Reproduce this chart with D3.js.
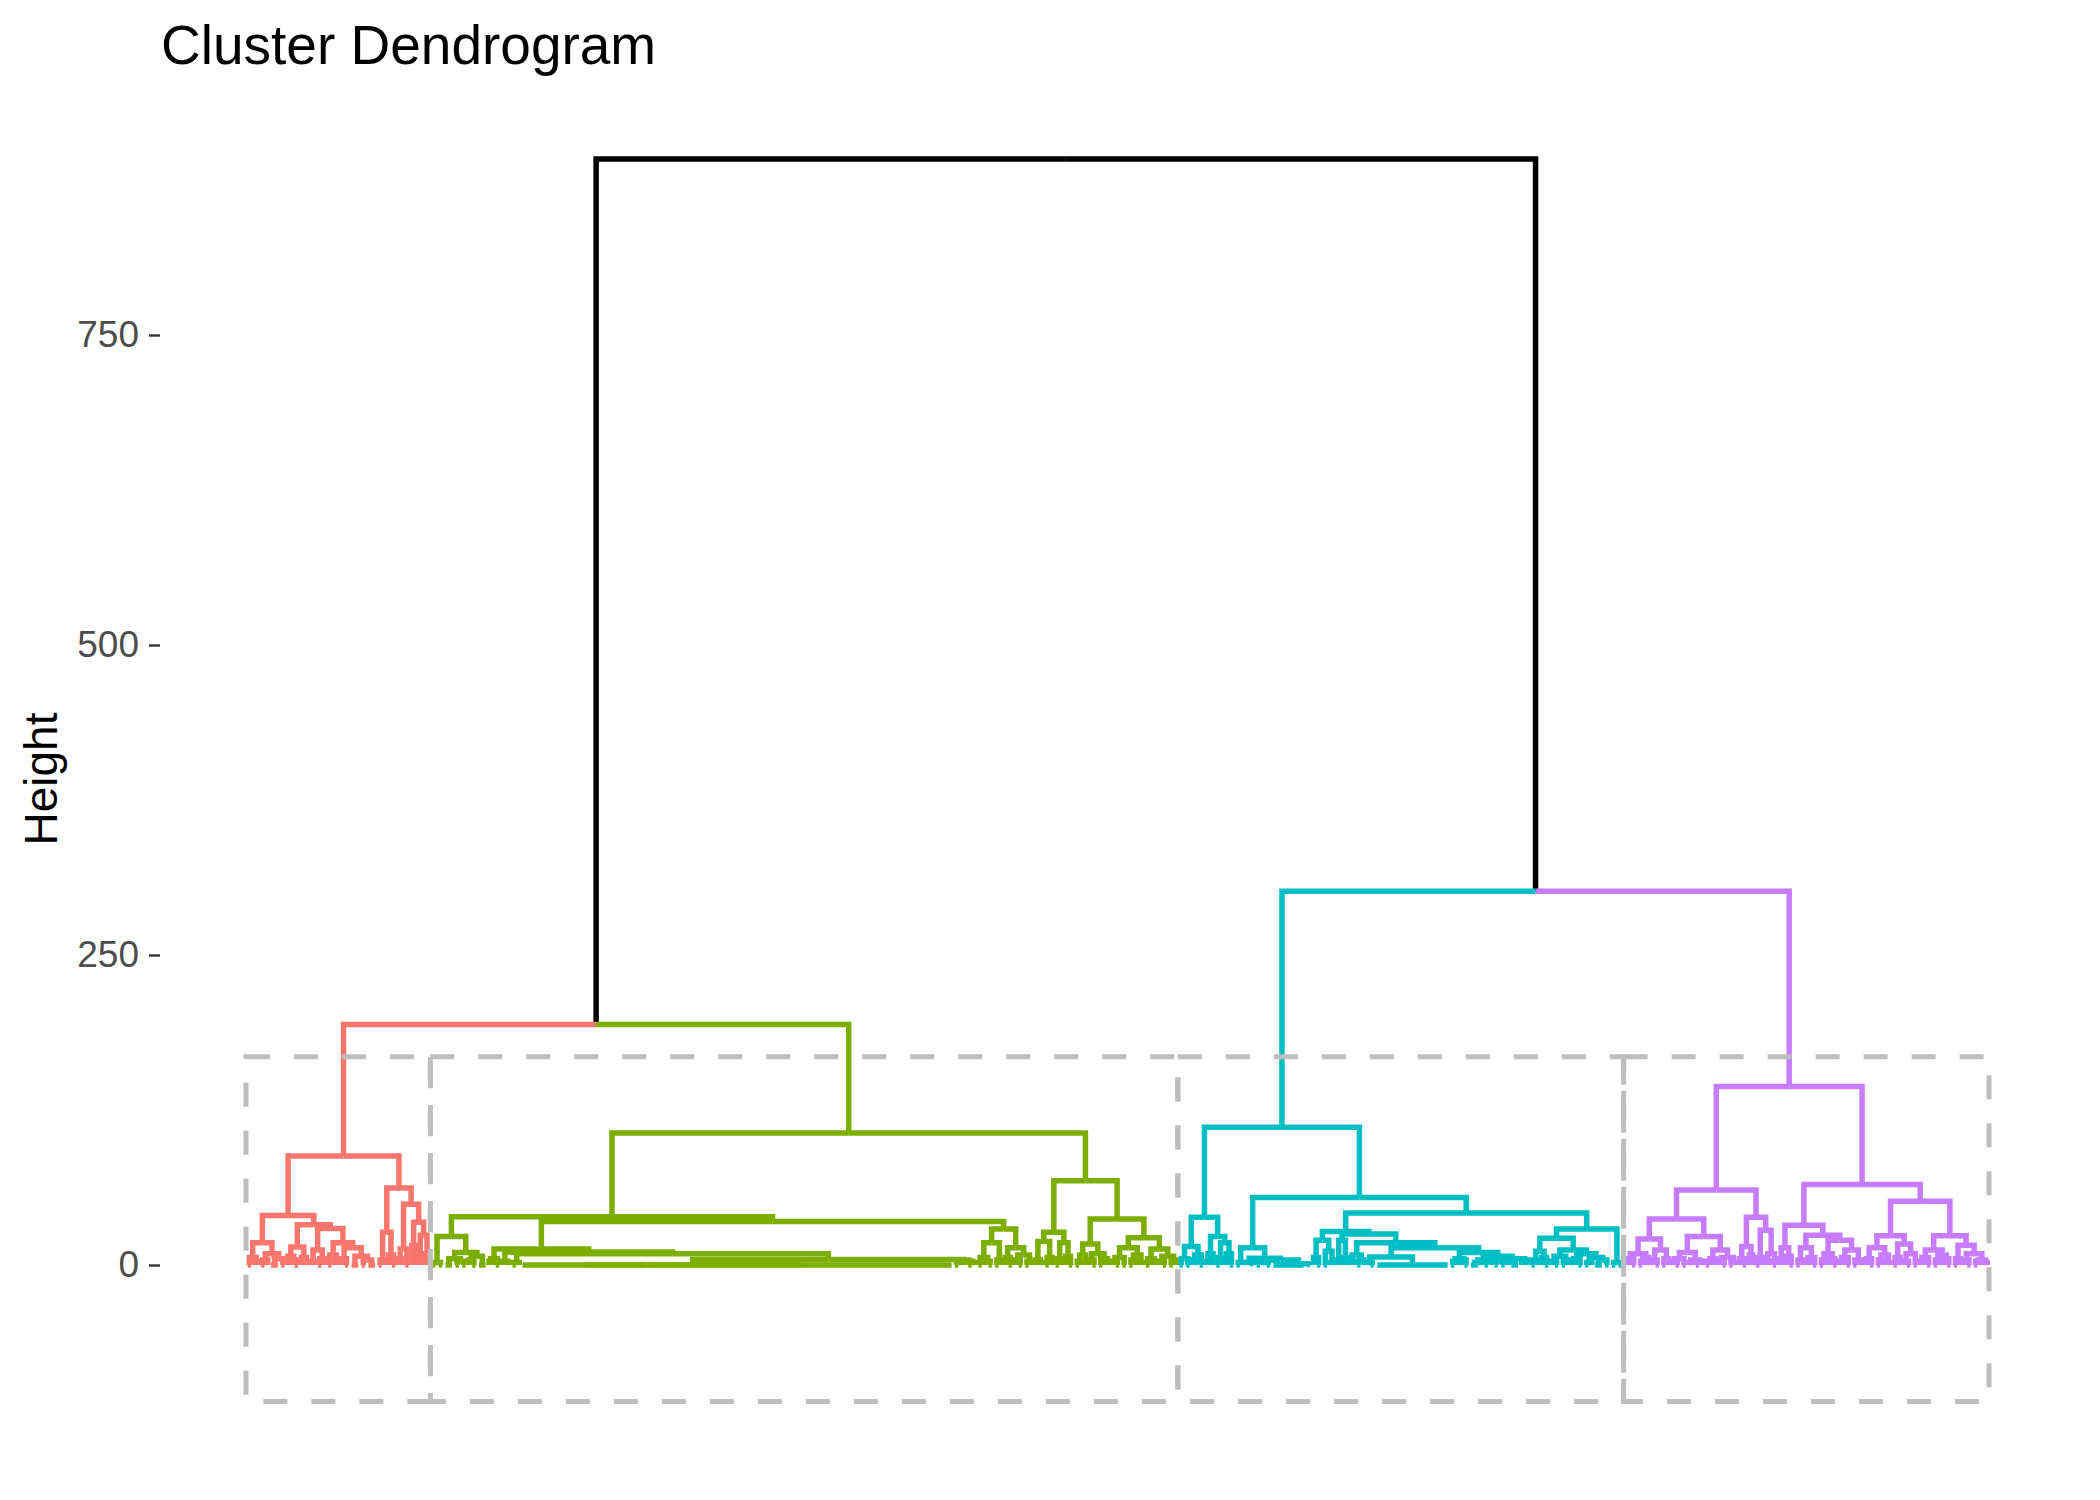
<!DOCTYPE html>
<html>
<head>
<meta charset="utf-8">
<script src="https://cdn.jsdelivr.net/npm/d3@7"></script>
<style>
  body { margin: 0; background: #fff; }
  svg { display: block; font-family: "Liberation Sans", Arial, sans-serif; }
</style>
</head>
<body>
<div id="chart"></div>
<script>
// --- data -----------------------------------------------------------------
// Each cluster is a small Newick-like string: "(a,b)h" is a merge at height h,
// a bare integer n is a run of n identical observations (merged at height 0).
const clusterColors = ["#F8766D", "#7CAE00", "#00BFC4", "#C77CFF"];

const redLeft  = "(((2,(1,1)3)6,((2,1)4,(3,2)5)9)18,(((1,(1,2)4)7,(1,(1,1)2)6)14.5,(((1,1)3,(2,1)5)12,((2,(1,1)4)8,((1,2)5,(3,(2,3)4)7)14)18)29.5)32.5)40";
const redRight = "(((2,1)4,(1,2)8)26.5,(((1,1)5,2)13,((1,1)16,((1,1)6,(1,1)9)24)34.5)49)62";

const greenLeft  = "(((2,2)2,((3,(2,2)3)5,((1,2)4,3)7)10)23,((((1,1)3,2)5,((1,(1,1)2)3,((2,1)2,((38,91)0,((2,1)2,(1,(2,1)2)3)4)4.5)9)10.5)13,(((2,(1,2)3)6,(2,1)4)18,((1,2)6,((1,2)4,(2,1)3)8)14)29)35)39";
const greenRight = "((((1,(1,1)2)4,(2,1)6)19,((2,1)5,(1,2)7)18)26.5,((((2,1)3,1)8,((1,2)4,(2,(1,1)2)5)9)17,((((1,2)3,2)6,((2,1)4,(1,1)2)8)14,((2,(1,1)2)5,((1,2)3,(2,1)4)7)13)22)37)68";

const cyanLeft   = "(((2,2)5,((1,1)4,2)8)15,(((1,1)3,1)9,((2,1)6,(1,2)9)18)23)38.5";
const cyanMid    = "((2,1)2,((1,(1,1)1)2,((2,(1,2)2)3,(10,(1,1)0.5)1)4)5.5)14";
const cyanRightA = "(((1,2)6,(2,(1,1)2)11)20,(((1,1)4,(1,1)6)20,(((1,1)3,(2,1)4)8,(((1,2)2,22)6.5,(((2,1)3,(1,2)4)5,(((3,1)2,(2,1)3)4,((2,2)3,(1,3)2,(1,1,1)4)5)7)10)14)18)25)27";
const cyanRightB = "((((2,1)4,(1,2)6)11,(((1,2)3,(2,1)4)7,(((1,1)3,2)5,((2,1)2,(3,2)4)6)9)12)21.5,(2,2)2)29";

const purpleLeftA  = "((((1,1)3,2)5,((2,1)3,1)6)9,((1,2)4,(2,1)5)12)21";
const purpleLeftB  = "((((1,2)3,2)5,((1,1)2,(2,1)3)4)10,(((2,1)3,1)5,((1,2)4,(2,1)2)6)12)23";
const purpleLeftC  = "(((1,2)5,(1,1)8)15,((2,1)6,((1,1)3,2)9)28)38.5";
const purpleRightA = "(((1,1)5,(1,2)7)14,(((2,1)4,((1,1)3,2)6)14,(((2,1)4,(1,2)5)9,(((1,1)3,2)6,(2,(1,1)2)4)12)20)24)32";
const purpleRightB = "(((1,2)5,((2,1)4,(1,1)2)8)14,((2,1)6,((1,2)3,2)9)17)23.5";
const purpleRightC = "((((1,1)3,2)6,((2,1)4,(1,2)5)8)12,((2,1)5,((1,2)4,((2,1)3,(1,1)2)4)9)16)23.5";

const clusterTrees = [
  `(${redLeft},${redRight})88`,
  `(${greenLeft},${greenRight})106.5`,
  `(${cyanLeft},(${cyanMid},(${cyanRightA},${cyanRightB})42)54.5)111`,
  `(((${purpleLeftA},${purpleLeftB})37,${purpleLeftC})60.5,(${purpleRightA},(${purpleRightB},${purpleRightC})51.5)65)144`
];

// how the four clusters join above the cut
const topTopology = "((#0,#1)194,(#2,#3)301.5)892";

const yTicks = [0, 250, 500, 750];
const rectHeights = [-110, 168];   // bottom / top of the dashed cluster boxes

// --- parse ------------------------------------------------------------------
function parseTree(str, cluster, roots) {
  let i = 0;
  const num = () => {
    const m = /^-?\d+(\.\d+)?/.exec(str.slice(i));
    i += m[0].length;
    return +m[0];
  };
  const node = () => {
    if (str[i] === "(") {
      i++;
      const children = [node()];
      while (str[i] === ",") { i++; children.push(node()); }
      i++;
      return { children, h: num(), cluster };
    }
    if (str[i] === "#") { i++; return roots[num()]; }
    return { n: num(), h: 0, cluster };
  };
  return node();
}

const clusterRoots = clusterTrees.map((s, k) => parseTree(s, k));
const root = parseTree(topTopology, null, clusterRoots);

// leaf order -> slot positions
let cursor = 0;
const extents = clusterColors.map(() => [Infinity, -Infinity]);
(function place(nd) {
  if (nd.children) {
    nd.children.forEach(place);
    nd.x = (nd.children[0].x + nd.children[nd.children.length - 1].x) / 2;
  } else {
    nd.start = cursor;
    cursor += nd.n;
    nd.x = nd.start + nd.n / 2;
    const e = extents[nd.cluster];
    e[0] = Math.min(e[0], nd.start);
    e[1] = Math.max(e[1], cursor);
  }
})(root);
const totalSlots = cursor;

// --- draw -------------------------------------------------------------------
const width = 2100, height = 1500;

const x = d3.scaleLinear().domain([0, totalSlots]).range([246, 1989]);
const y = d3.scaleLinear().domain([0, 750]).range([1265, 335]);

const svg = d3.select("#chart").append("svg")
  .attr("width", width)
  .attr("height", height);

svg.append("rect").attr("width", width).attr("height", height).attr("fill", "#fff");

const segs = [];
const runs = [];
(function walk(nd) {
  if (!nd.children) {
    if (nd.n > 1) runs.push(nd);
    return;
  }
  nd.children.forEach(c => {
    segs.push({ c, p: nd });
    walk(c);
  });
})(root);

const tree = svg.append("g")
  .attr("fill", "none")
  .attr("stroke-width", 5.5);

tree.selectAll("path.branch")
  .data(segs)
  .join("path")
  .attr("class", "branch")
  .attr("stroke", d => d.c.cluster == null ? "#000" : clusterColors[d.c.cluster])
  .attr("d", d => `M${x(d.c.x)},${y(d.c.h)}V${y(d.p.h)}H${x(d.p.x)}`);

tree.selectAll("line.run")
  .data(runs)
  .join("line")
  .attr("class", "run")
  .attr("stroke", d => clusterColors[d.cluster])
  .attr("x1", d => x(d.start + 0.5))
  .attr("x2", d => x(d.start + d.n - 0.5))
  .attr("y1", y(0))
  .attr("y2", y(0));

// dashed boxes around the clusters
svg.append("g")
  .selectAll("rect")
  .data(extents)
  .join("rect")
  .attr("x", d => x(d[0]))
  .attr("width", d => x(d[1]) - x(d[0]))
  .attr("y", y(rectHeights[1]))
  .attr("height", y(rectHeights[0]) - y(rectHeights[1]))
  .attr("fill", "none")
  .attr("stroke", "#BEBEBE")
  .attr("stroke-width", 5)
  .attr("stroke-dasharray", "24,24");

// y axis (ticks only)
const yAxis = svg.append("g")
  .attr("transform", "translate(160,0)")
  .call(d3.axisLeft(y).tickValues(yTicks).tickSize(11).tickPadding(10));
yAxis.select(".domain").remove();
yAxis.selectAll(".tick line").attr("stroke", "#333333").attr("stroke-width", 2.4);
yAxis.selectAll(".tick text")
  .attr("fill", "#4D4D4D")
  .style("font-size", "37px")
  .style("font-family", "'Liberation Sans', Arial, sans-serif");

svg.append("text")
  .attr("transform", "translate(57,779) rotate(-90)")
  .attr("text-anchor", "middle")
  .attr("fill", "#000")
  .style("font-size", "46px")
  .text("Height");

svg.append("text")
  .attr("x", 161)
  .attr("y", 64)
  .attr("fill", "#000")
  .style("font-size", "55px")
  .text("Cluster Dendrogram");
</script>
</body>
</html>
